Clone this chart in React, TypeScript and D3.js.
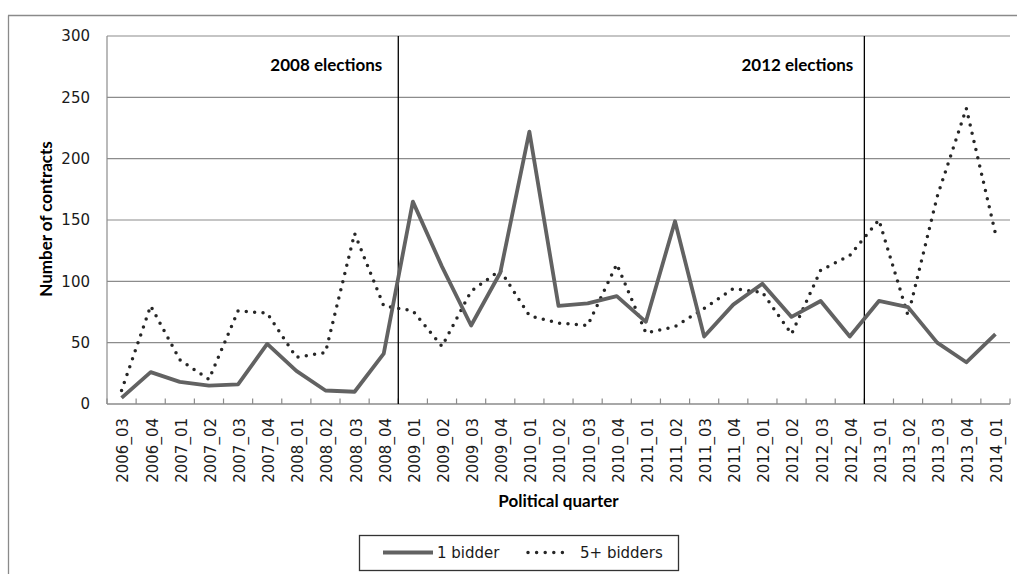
import React from "react";
import * as d3 from "d3";

// Quarterly counts of contracts by number of bidders
const quarters = [
  "2006_03", "2006_04",
  "2007_01", "2007_02", "2007_03", "2007_04",
  "2008_01", "2008_02", "2008_03", "2008_04",
  "2009_01", "2009_02", "2009_03", "2009_04",
  "2010_01", "2010_02", "2010_03", "2010_04",
  "2011_01", "2011_02", "2011_03", "2011_04",
  "2012_01", "2012_02", "2012_03", "2012_04",
  "2013_01", "2013_02", "2013_03", "2013_04",
  "2014_01",
];

const oneBidder = [
  5, 26, 18, 15, 16, 49, 27, 11, 10, 41,
  165, 112, 64, 107, 222, 80, 82, 88, 67, 149,
  55, 81, 98, 71, 84, 55, 84, 79, 50, 34, 57,
];

const fivePlusBidders = [
  11, 80, 36, 20, 76, 74, 38, 42, 139, 80,
  76, 47, 92, 109, 72, 66, 64, 114, 58, 63,
  78, 94, 91, 57, 109, 121, 150, 72, 169, 241, 139,
];

const yTicks = [0, 50, 100, 150, 200, 250, 300];

// Election markers: the line sits after the named quarter
const electionQuarters = ["2008_04", "2012_04"];
const electionLabels = ["2008 elections", "2012 elections"];
// gap between each label's right end and its marker line
const electionLabelGap = [16, 11];

const W = 1017;
const H = 574;
const plot = { left: 107, right: 1010, top: 36, bottom: 404 };

const tickFont = "'DejaVu Sans', Verdana, sans-serif";
const titleFont = "Lato, 'Open Sans', sans-serif";
const titleSize = 17;

export default function App() {
  const x = d3
    .scaleBand<string>()
    .domain(quarters)
    .range([plot.left, plot.right])
    .paddingInner(0)
    .paddingOuter(0);
  const y = d3.scaleLinear().domain([0, 300]).range([plot.bottom, plot.top]);
  const cx = (q: string) => (x(q) as number) + x.bandwidth() / 2;

  const line = d3
    .line<number>()
    .x((_, i) => cx(quarters[i]))
    .y((v) => y(v));

  const boundaries = quarters.map((q) => x(q) as number).concat([plot.right]);

  return (
    <svg
      width={W}
      height={H}
      style={{ position: "absolute", left: 0, top: 0, background: "#fff" }}
    >
      {/* chart frame */}
      <line x1={8} y1={15.5} x2={W} y2={15.5} stroke="#8a8a8a" strokeWidth={1.3} />
      <line x1={8.5} y1={15.5} x2={8.5} y2={H} stroke="#8a8a8a" strokeWidth={1.3} />

      {/* horizontal gridlines */}
      {yTicks.map((t) => (
        <line
          key={t}
          x1={plot.left}
          x2={plot.right}
          y1={y(t)}
          y2={y(t)}
          stroke="#8c8c8c"
          strokeWidth={1.2}
        />
      ))}

      {/* axes */}
      <line x1={plot.left} x2={plot.left} y1={plot.top} y2={plot.bottom} stroke="#8c8c8c" strokeWidth={1.2} />
      <line x1={plot.left} x2={plot.right} y1={plot.bottom} y2={plot.bottom} stroke="#8c8c8c" strokeWidth={1.2} />
      {boundaries.map((b, i) => (
        <line
          key={i}
          x1={b}
          x2={b}
          y1={plot.bottom}
          y2={plot.bottom - 5.5}
          stroke="#8c8c8c"
          strokeWidth={1.2}
        />
      ))}

      {/* y tick labels */}
      {yTicks.map((t) => (
        <text
          key={t}
          x={90}
          y={y(t)}
          dy="0.36em"
          textAnchor="end"
          fontFamily={tickFont}
          fontSize={15}
          fill="#1a1a1a"
        >
          {t}
        </text>
      ))}

      {/* x tick labels */}
      {quarters.map((q) => (
        <text
          key={q}
          transform={`translate(${cx(q) + 1.5},${418}) rotate(-90)`}
          dy="0.36em"
          textAnchor="end"
          fontFamily={tickFont}
          fontSize={15}
          fill="#1a1a1a"
        >
          {q}
        </text>
      ))}

      {/* election markers */}
      {electionQuarters.map((q, i) => {
        const xe = (x(q) as number) + x.bandwidth();
        return (
          <g key={q}>
            <line x1={xe} x2={xe} y1={plot.top} y2={plot.bottom} stroke="#000" strokeWidth={1.3} />
            <text
              x={xe - electionLabelGap[i]}
              y={71}
              textAnchor="end"
              fontFamily={titleFont}
              fontWeight="bold"
              fontSize={titleSize}
              fill="#000"
            >
              {electionLabels[i]}
            </text>
          </g>
        );
      })}

      {/* series */}
      <path
        d={line(fivePlusBidders) || ""}
        fill="none"
        stroke="#262626"
        strokeWidth={3.5}
        strokeDasharray="0 8.4"
        strokeLinecap="round"
        strokeLinejoin="round"
      />
      <path
        d={line(oneBidder) || ""}
        fill="none"
        stroke="#626262"
        strokeWidth={3.8}
        strokeLinejoin="round"
      />

      {/* axis titles */}
      <text
        transform={`translate(${52},${219}) rotate(-90)`}
        textAnchor="middle"
        fontFamily={titleFont}
        fontWeight="bold"
        fontSize={titleSize}
        fill="#000"
      >
        Number of contracts
      </text>
      <text
        x={(plot.left + plot.right) / 2}
        y={507}
        textAnchor="middle"
        fontFamily={titleFont}
        fontWeight="bold"
        fontSize={titleSize}
        fill="#000"
      >
        Political quarter
      </text>

      {/* legend */}
      <rect x={359.5} y={535.5} width={319} height={35} fill="#fff" stroke="#333" strokeWidth={1.3} />
      <line x1={383} x2={433} y1={552.5} y2={552.5} stroke="#626262" strokeWidth={3.8} />
      <text x={437} y={552.5} dy="0.36em" fontFamily={tickFont} fontSize={15} fill="#1a1a1a">
        1 bidder
      </text>
      <line
        x1={528}
        x2={571}
        y1={552.5}
        y2={552.5}
        stroke="#262626"
        strokeWidth={3.5}
        strokeDasharray="0 8.6"
        strokeLinecap="round"
      />
      <text x={580} y={552.5} dy="0.36em" fontFamily={tickFont} fontSize={15} fill="#1a1a1a">
        5+ bidders
      </text>
    </svg>
  );
}
